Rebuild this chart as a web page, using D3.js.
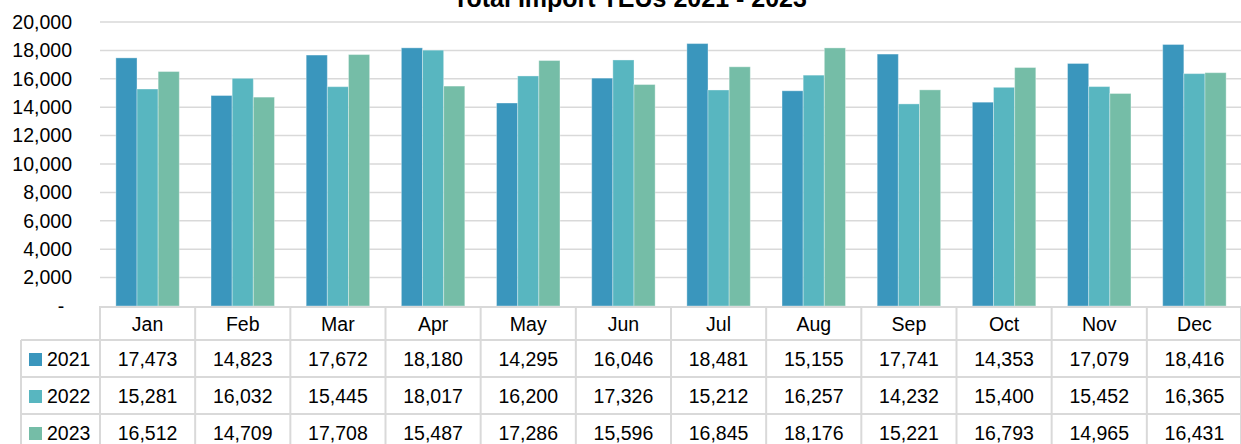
<!DOCTYPE html>
<meta charset="utf-8">
<style>
body{margin:0;background:#fff;}
text{font-family:"Liberation Sans",Arial,sans-serif;fill:#000;}
.grid line{stroke:#d9d9d9;stroke-width:1.5px;}
.tbl line{stroke:#d9d9d9;stroke-width:2px;}
</style>
<body>
<script src="https://cdn.jsdelivr.net/npm/d3@7/dist/d3.min.js"></script>
<script>
var months=["Jan","Feb","Mar","Apr","May","Jun","Jul","Aug","Sep","Oct","Nov","Dec"];
var years=["2021","2022","2023"];
var v2021=[17473,14823,17672,18180,14295,16046,18481,15155,17741,14353,17079,18416];
var v2022=[15281,16032,15445,18017,16200,17326,15212,16257,14232,15400,15452,16365];
var v2023=[16512,14709,17708,15487,17286,15596,16845,18176,15221,16793,14965,16431];
var yTicks=[0,2000,4000,6000,8000,10000,12000,14000,16000,18000,20000];
var colors={"2021":"#3a96bd","2022":"#58b6c0","2023":"#75bda7"};

var series=[v2021,v2022,v2023];
var W=1241,H=444;
var mLeft=100,mRight=1242,mTop=22,base=306;
var rowH=37,headH=34;

var svg=d3.select("body").append("svg").attr("width",W).attr("height",H);

var x=d3.scaleBand().domain(months).range([mLeft,mRight]);
var y=d3.scaleLinear().domain([0,20000]).range([base,mTop]);
// bar cluster takes the middle two thirds of each month band
var xs=d3.scaleBand().domain(years).range([x.bandwidth()*0.1667,x.bandwidth()*0.8333]);

// gridlines
svg.append("g").attr("class","grid").selectAll("line").data(yTicks.slice(1)).join("line")
	.attr("x1",mLeft).attr("x2",mRight).attr("y1",d=>y(d)).attr("y2",d=>y(d));

// y labels
svg.append("g").selectAll("text").data(yTicks).join("text")
	.attr("x",d=>d==0?61:72).attr("y",d=>y(d)).attr("dy","0.35em")
	.attr("text-anchor",d=>d==0?"middle":"end").style("font-size","19.5px")
	.text(d=>d==0?"-":d3.format(",")(d));

// title (cut by the top edge, as in the source)
svg.append("text").attr("x",630).attr("y",7).attr("text-anchor","middle")
	.style("font-size","25px").style("font-weight","bold").text("Total Import TEUs 2021 - 2023");

// bars
var g=svg.append("g");
years.forEach(function(yr,i){
	g.append("g").selectAll("rect").data(series[i]).join("rect")
		.attr("x",(d,j)=>x(months[j])+xs(yr))
		.attr("y",d=>y(d))
		.attr("width",xs.bandwidth())
		.attr("height",d=>base-y(d))
		.attr("fill",colors[yr])
		.attr("stroke","#fff").attr("stroke-opacity",0.35).attr("stroke-width",1);
});

// data table
var tb=svg.append("g").attr("class","tbl");
var rowTop=base+headH;
tb.append("line").attr("x1",mLeft).attr("x2",mRight).attr("y1",base+1).attr("y2",base+1);
[0,1,2,3].forEach(function(r){
	tb.append("line").attr("x1",21).attr("x2",mRight).attr("y1",rowTop+r*rowH).attr("y2",rowTop+r*rowH);
});
tb.append("line").attr("x1",21).attr("x2",21).attr("y1",rowTop).attr("y2",H);
months.forEach(function(m){
	tb.append("line").attr("x1",x(m)).attr("x2",x(m)).attr("y1",base).attr("y2",H);
});
tb.append("line").attr("x1",mRight-1).attr("x2",mRight-1).attr("y1",base).attr("y2",H);

// header
svg.append("g").selectAll("text").data(months).join("text")
	.attr("x",d=>x(d)+x.bandwidth()/2).attr("y",base+headH/2+1).attr("dy","0.35em")
	.attr("text-anchor","middle").style("font-size","19.5px").text(d=>d);

years.forEach(function(yr,i){
	var cy=rowTop+i*rowH+rowH/2+1;
	svg.append("rect").attr("x",29).attr("y",cy-6.5).attr("width",13).attr("height",13).attr("fill",colors[yr]);
	svg.append("text").attr("x",47).attr("y",cy).attr("dy","0.35em").style("font-size","19.5px").text(yr);
	svg.append("g").selectAll("text").data(series[i]).join("text")
		.attr("x",(d,j)=>x(months[j])+x.bandwidth()/2).attr("y",cy).attr("dy","0.35em")
		.attr("text-anchor","middle").style("font-size","19.5px")
		.text(d=>d3.format(",")(d));
});
</script>
</body>
